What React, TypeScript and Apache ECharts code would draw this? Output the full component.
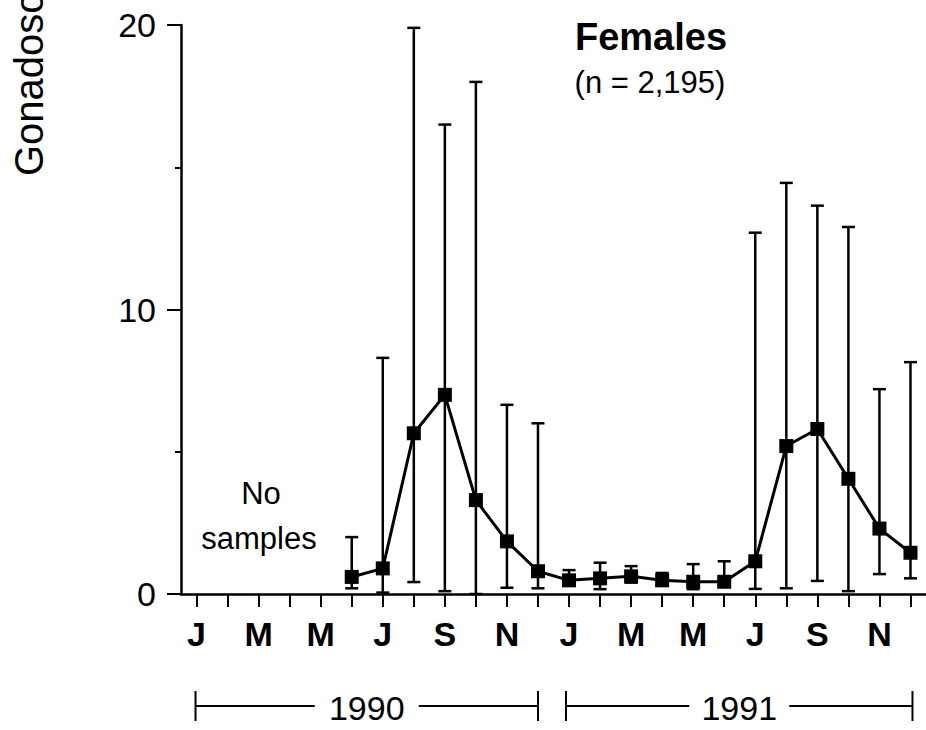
import React, { useEffect, useRef } from "react";
import * as echarts from "echarts";

const monthLabels = ["J", "F", "M", "A", "M", "J", "J", "A", "S", "O", "N", "D", "J", "F", "M", "A", "M", "J", "J", "A", "S", "O", "N", "D"];
const gsiMean = [null, null, null, null, null, 0.6, 0.9, 5.65, 7.0, 3.3, 1.85, 0.8, 0.48, 0.55, 0.62, 0.48, 0.43, 0.43, 1.15, 5.2, 5.8, 4.05, 2.3, 1.45];
const gsiLower = [null, null, null, null, null, 0.2, 0.05, 0.42, 0.1, 0.0, 0.22, 0.2, 0.3, 0.17, 0.4, 0.3, 0.17, 0.3, 0.18, 0.2, 0.46, 0.1, 0.7, 0.55];
const gsiUpper = [null, null, null, null, null, 2.0, 8.3, 19.9, 16.5, 18.0, 6.65, 6.0, 0.84, 1.1, 0.98, 0.74, 1.05, 1.15, 12.7, 14.45, 13.65, 12.9, 7.2, 8.15];
const yearLabels = ["1990", "1991"];
const yTickLabels = ["0", "10", "20"];

const FONT = "'Liberation Sans', Arial, Helvetica, sans-serif";

export default function App() {
  const ref = useRef<HTMLDivElement>(null);
  useEffect(() => {
    document.body.style.margin = "0";
    if (!ref.current) return;
    const chart = echarts.init(ref.current, null, { renderer: "svg" });
    const errData = gsiMean
      .map((m, i) => (m == null ? null : [i, gsiLower[i], gsiUpper[i]]))
      .filter((d) => d != null);
    chart.setOption({
      animation: false,
      backgroundColor: "#fff",
      grid: { left: 181, right: 0, top: 25, bottom: 136, containLabel: false },
      xAxis: {
        type: "category",
        data: monthLabels,
        boundaryGap: true,
        axisLine: { show: true, lineStyle: { color: "#000", width: 2.5 } },
        axisTick: { show: true, alignWithLabel: true, interval: 0, length: 13, lineStyle: { color: "#000", width: 2 } },
        axisLabel: { interval: 1, color: "#000", fontFamily: FONT, fontWeight: "bold", fontSize: 34, margin: 23 },
        splitLine: { show: false },
      },
      yAxis: {
        type: "value",
        min: 0,
        max: 20,
        interval: 10,
        axisLine: { show: true, lineStyle: { color: "#000", width: 2.5 } },
        axisTick: { show: true, length: 14, lineStyle: { color: "#000", width: 2 } },
        minorTick: { show: true, splitNumber: 2, length: 6, lineStyle: { color: "#000", width: 2 } },
        axisLabel: {
          color: "#000",
          fontFamily: FONT,
          fontSize: 34,
          margin: 25,
          formatter: (v: number) => (yTickLabels.includes(String(v)) ? String(v) : ""),
        },
        splitLine: { show: false },
      },
      series: [
        {
          type: "custom",
          z: 1,
          data: errData,
          renderItem: (params: any, api: any) => {
            const x = api.value(0);
            const lo = api.coord([x, api.value(1)]);
            const hi = api.coord([x, api.value(2)]);
            const hw = 6.5;
            const st = { stroke: "#000", lineWidth: 2.5 };
            return {
              type: "group",
              children: [
                { type: "line", shape: { x1: lo[0], y1: lo[1], x2: hi[0], y2: hi[1] }, style: st },
                { type: "line", shape: { x1: hi[0] - hw, y1: hi[1], x2: hi[0] + hw, y2: hi[1] }, style: st },
                { type: "line", shape: { x1: lo[0] - hw, y1: lo[1], x2: lo[0] + hw, y2: lo[1] }, style: st },
              ],
            };
          },
        },
        {
          type: "line",
          z: 2,
          data: gsiMean,
          symbol: "rect",
          symbolSize: 14,
          itemStyle: { color: "#000" },
          lineStyle: { color: "#000", width: 3 },
        },
      ],
    });

    const p0 = chart.convertToPixel({ xAxisIndex: 0 }, 0) as number;
    const p11 = chart.convertToPixel({ xAxisIndex: 0 }, 11) as number;
    const p12 = chart.convertToPixel({ xAxisIndex: 0 }, 12) as number;
    const p23 = chart.convertToPixel({ xAxisIndex: 0 }, 23) as number;
    const yB = 706;
    const bracket = (x1: number, x2: number, label: string, gap: number) => {
      const mid = (x1 + x2) / 2;
      const st = { stroke: "#000", lineWidth: 2 };
      return [
        { type: "line", shape: { x1, y1: yB - 15, x2: x1, y2: yB + 15 }, style: st },
        { type: "line", shape: { x1: x2, y1: yB - 15, x2: x2, y2: yB + 15 }, style: st },
        { type: "line", shape: { x1, y1: yB, x2: mid - gap, y2: yB }, style: st },
        { type: "line", shape: { x1: mid + gap, y1: yB, x2: x2, y2: yB }, style: st },
        {
          type: "text",
          x: mid,
          y: yB + 2,
          style: { text: label, fontSize: 34, fontFamily: FONT, fill: "#000", textAlign: "center", textVerticalAlign: "middle" },
        },
      ];
    };

    chart.setOption({
      graphic: [
        ...bracket(p0 - 1, p11, yearLabels[0], 52),
        ...bracket(p12 - 3, p23 + 2, yearLabels[1], 50),
        {
          type: "text",
          x: 29,
          y: 176,
          rotation: Math.PI / 2,
          style: { text: "Gonadosomatic index", fontSize: 40, fontFamily: FONT, fill: "#000", textAlign: "left", textVerticalAlign: "middle" },
        },
        {
          type: "text",
          x: 651,
          y: 37,
          style: { text: "Females", fontSize: 38, fontWeight: "bold", fontFamily: FONT, fill: "#000", textAlign: "center", textVerticalAlign: "middle" },
        },
        {
          type: "text",
          x: 650,
          y: 82,
          style: { text: "(n = 2,195)", fontSize: 31, fontFamily: FONT, fill: "#000", textAlign: "center", textVerticalAlign: "middle" },
        },
        {
          type: "text",
          x: 261,
          y: 493,
          style: { text: "No", fontSize: 31, fontFamily: FONT, fill: "#000", textAlign: "center", textVerticalAlign: "middle" },
        },
        {
          type: "text",
          x: 259,
          y: 538,
          style: { text: "samples", fontSize: 31, fontFamily: FONT, fill: "#000", textAlign: "center", textVerticalAlign: "middle" },
        },
      ],
    });

    return () => chart.dispose();
  }, []);
  return <div ref={ref} style={{ width: 926, height: 730 }} />;
}
